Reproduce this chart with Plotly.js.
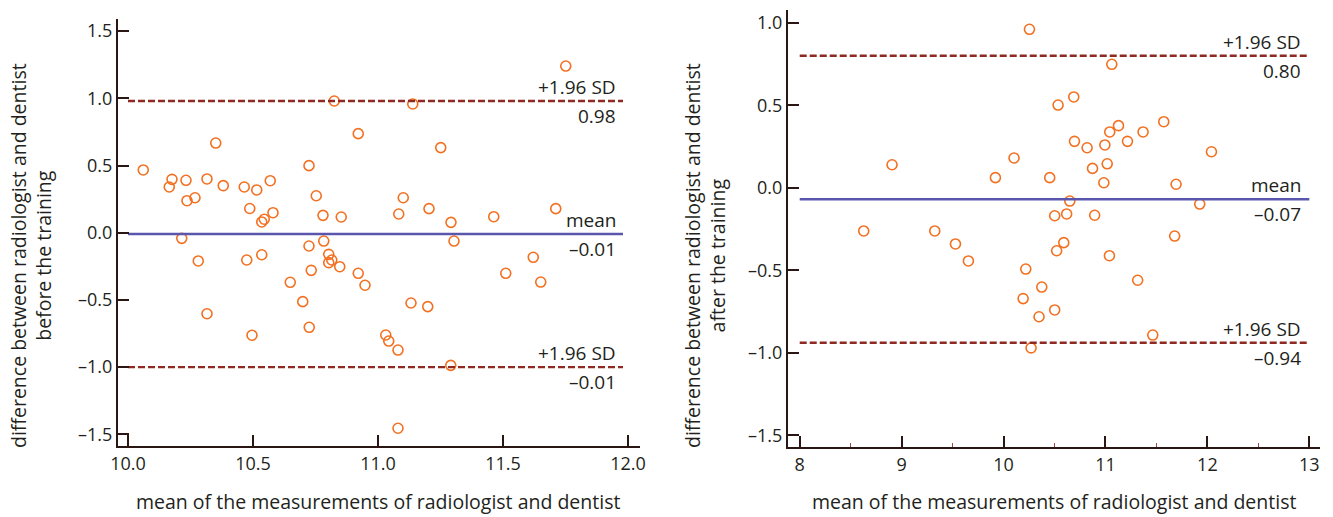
<!DOCTYPE html>
<html>
<head>
<meta charset="utf-8">
<script src="https://cdn.plot.ly/plotly-3.0.1.min.js"></script>
<style>
html,body{margin:0;padding:0;background:#fff;}
#chart{width:1333px;height:517px;}
</style>
</head>
<body>
<div id="chart"></div>
<script>
// ---- data: before the training ----
const beforeMean = [10.825,10.921,10.351,10.061,10.724,10.176,10.165,10.232,10.316,10.381,10.465,10.515,10.569,10.236,10.268,10.487,10.58,10.545,10.535,10.753,10.78,10.853,10.215,10.724,10.783,11.751,11.139,11.251,11.101,11.083,11.204,11.292,11.463,11.711,11.304,10.281,10.475,10.535,10.803,10.803,10.815,10.733,10.847,10.921,10.948,10.649,10.699,10.316,10.725,10.496,11.621,11.511,11.651,11.132,11.199,11.031,11.043,11.08,11.291,11.08];
const beforeDiff = [0.98,0.737,0.667,0.467,0.499,0.397,0.34,0.39,0.40,0.35,0.34,0.318,0.387,0.238,0.26,0.18,0.149,0.10,0.08,0.275,0.129,0.117,-0.042,-0.099,-0.062,1.24,0.958,0.633,0.26,0.139,0.179,0.077,0.119,0.179,-0.062,-0.21,-0.203,-0.164,-0.161,-0.223,-0.203,-0.28,-0.253,-0.302,-0.391,-0.369,-0.513,-0.603,-0.704,-0.763,-0.183,-0.302,-0.367,-0.523,-0.55,-0.761,-0.806,-0.873,-0.987,-1.455];
const beforeLineX = [10.0, 11.98];
const beforeLimits = [0.98, -0.01, -1.0];          // upper, mean, lower
const beforeLabelsTop = ["+1.96 SD", "mean", "+1.96 SD"];
const beforeLabelsBottom = ["0.98", "\u20130.01", "\u20130.01"];
const beforeXTicks = [10.0, 10.5, 11.0, 11.5, 12.0];
const beforeXTickText = ["10.0", "10.5", "11.0", "11.5", "12.0"];
const beforeYTicks = [-1.5, -1.0, -0.5, 0.0, 0.5, 1.0, 1.5];
const beforeYTickText = ["\u20131.5", "\u20131.0", "\u20130.5", "0.0", "0.5", "1.0", "1.5"];

// ---- data: after the training ----
const afterMean = [10.254,8.906,9.92,10.103,10.453,10.535,10.502,8.628,9.325,11.062,10.689,11.572,11.128,11.042,11.369,10.696,11.216,10.82,10.994,12.04,11.017,10.873,10.984,11.693,10.65,11.925,10.619,10.894,9.528,9.655,10.218,10.521,10.375,10.192,10.502,10.348,10.27,10.591,11.679,11.039,11.316,11.464];
const afterDiff = [0.96,0.139,0.061,0.18,0.061,0.501,-0.17,-0.262,-0.262,0.748,0.55,0.40,0.376,0.338,0.338,0.281,0.281,0.242,0.259,0.218,0.145,0.117,0.03,0.021,-0.081,-0.099,-0.159,-0.167,-0.341,-0.444,-0.493,-0.382,-0.602,-0.672,-0.741,-0.782,-0.971,-0.333,-0.293,-0.412,-0.561,-0.893];
const afterLineX = [8.0, 13.0];
const afterLimits = [0.80, -0.07, -0.94];
const afterLabelsTop = ["+1.96 SD", "mean", "+1.96 SD"];
const afterLabelsBottom = ["0.80", "\u20130.07", "\u20130.94"];
const afterXTicks = [8, 9, 10, 11, 12, 13];
const afterXTickText = ["8", "9", "10", "11", "12", "13"];
const afterYTicks = [-1.5, -1.0, -0.5, 0.0, 0.5, 1.0];
const afterYTickText = ["\u20131.5", "\u20131.0", "\u20130.5", "0.0", "0.5", "1.0"];

const xTitle = "mean of the measurements of radiologist and dentist";
const yTitleBefore = "difference between radiologist and dentist<br>before the training";
const yTitleAfter = "difference between radiologist and dentist<br>after the training";

// ---- styles ----
const FONT = "Open Sans, sans-serif";
const TXT = "#231f20";
const AXC = "#2a1612";
const ORANGE = "#f37021";
const DRED = "#8e2a22";
const BLUE = "#5a56ad";
const lineStyles = [
  {color: DRED, width: 2.4, dash: "7px,3px"},
  {color: BLUE, width: 2.4, dash: "solid"},
  {color: DRED, width: 2.4, dash: "7px,3px"}
];

const traces = [];
function addPanel(xs, ys, lineX, limits, xa, ya) {
  traces.push({
    type: "scatter", mode: "markers", x: xs, y: ys, xaxis: xa, yaxis: ya,
    marker: {symbol: "circle-open", size: 10, color: ORANGE, line: {width: 1.6, color: ORANGE}},
    hoverinfo: "x+y", showlegend: false, cliponaxis: false
  });
  limits.forEach((v, i) => {
    traces.push({
      type: "scatter", mode: "lines", x: lineX, y: [v, v], xaxis: xa, yaxis: ya,
      line: lineStyles[i], showlegend: false, hoverinfo: "skip"
    });
  });
}
addPanel(beforeMean, beforeDiff, beforeLineX, beforeLimits, "x", "y");
addPanel(afterMean, afterDiff, afterLineX, afterLimits, "x2", "y2");

const LBL = 19;
const annotations = [];
function addLabels(lineX, limits, tops, bottoms, xr, yr) {
  const xr0 = lineX[1] - (xr === "x" ? 0.02 : 0.06);
  limits.forEach((v, i) => {
    annotations.push({x: xr0, y: v, xref: xr, yref: yr, text: tops[i], showarrow: false,
      xanchor: "right", yanchor: "bottom", yshift: -1, font: {family: FONT, size: LBL, color: TXT}});
    annotations.push({x: xr0, y: v, xref: xr, yref: yr, text: bottoms[i], showarrow: false,
      xanchor: "right", yanchor: "top", yshift: 0, font: {family: FONT, size: LBL, color: TXT}});
  });
}
addLabels(beforeLineX, beforeLimits, beforeLabelsTop, beforeLabelsBottom, "x", "y");
addLabels(afterLineX, afterLimits, afterLabelsTop, afterLabelsBottom, "x2", "y2");

// axis titles
const TT = 19.5;
annotations.push({x: 378/1333, y: 1 - 501/517, xref: "paper", yref: "paper", text: xTitle, showarrow: false,
  xanchor: "center", yanchor: "middle", font: {family: FONT, size: TT, color: TXT}});
annotations.push({x: 1054/1333, y: 1 - 501/517, xref: "paper", yref: "paper", text: xTitle, showarrow: false,
  xanchor: "center", yanchor: "middle", font: {family: FONT, size: TT, color: TXT}});
annotations.push({x: 31/1333, y: 1 - 256/517, xref: "paper", yref: "paper", text: yTitleBefore, showarrow: false,
  textangle: -90, xanchor: "center", yanchor: "middle", font: {family: FONT, size: TT, color: TXT}});
annotations.push({x: 705/1333, y: 1 - 256/517, xref: "paper", yref: "paper", text: yTitleAfter, showarrow: false,
  textangle: -90, xanchor: "center", yanchor: "middle", font: {family: FONT, size: TT, color: TXT}});

const axBase = {
  showline: true, linecolor: AXC, linewidth: 2, mirror: false,
  ticks: "inside", ticklen: 11, tickwidth: 2, tickcolor: AXC,
  showgrid: false, zeroline: false, fixedrange: true,
  tickfont: {family: FONT, size: 18, color: TXT}
};

const layout = {
  width: 1333, height: 517,
  margin: {l: 0, r: 0, t: 0, b: 0},
  paper_bgcolor: "#fff", plot_bgcolor: "#fff",
  showlegend: false,
  xaxis: Object.assign({}, axBase, {domain: [118/1333, 640/1333], range: [9.96, 12.048],
    tickmode: "array", tickvals: beforeXTicks, ticktext: beforeXTickText, anchor: "y"}),
  yaxis: Object.assign({}, axBase, {domain: [1 - 446/517, 1 - 19/517], range: [-1.587, 1.59],
    tickmode: "array", tickvals: beforeYTicks, ticktext: beforeYTickText, anchor: "x"}),
  xaxis2: Object.assign({}, axBase, {domain: [788/1333, 1320/1333], range: [7.885, 13.105],
    tickmode: "array", tickvals: afterXTicks, ticktext: afterXTickText, anchor: "y2",
    minor: {ticks: "inside", dtick: 0.5, tick0: 8, ticklen: 4, tickwidth: 1, tickcolor: "#a04848"}}),
  yaxis2: Object.assign({}, axBase, {domain: [1 - 447/517, 1 - 10/517], range: [-1.5715, 1.077],
    tickmode: "array", tickvals: afterYTicks, ticktext: afterYTickText, anchor: "x2"}),
  annotations: annotations
};

Plotly.newPlot("chart", traces, layout, {displayModeBar: false, staticPlot: true});
</script>
</body>
</html>
